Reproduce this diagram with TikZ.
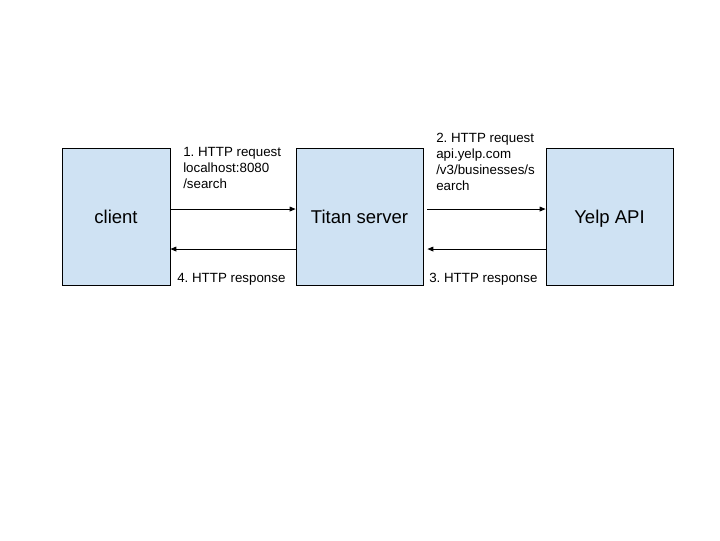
\documentclass[tikz,border=0pt]{standalone}
\usepackage{fontspec}
\setmainfont{Liberation Sans}
\usetikzlibrary{arrows.meta}
\definecolor{boxfill}{HTML}{CFE2F3}
\frenchspacing
\tikzset{
  box/.style={draw=black, line width=0.6pt, fill=boxfill, minimum height=102.75pt, inner sep=0pt, text depth=0pt, font=\fontsize{13.9}{16}\selectfont},
  lbl/.style={inner sep=0pt, align=left, font=\fontsize{10}{12}\selectfont},
  conn/.style={line width=0.7pt, -{Triangle[length=4.5pt,width=3.6pt]}}
}
\begin{document}
\begin{tikzpicture}[x=0.75pt,y=-0.75pt]
\useasboundingbox (0,0) rectangle (720,540);
\node[box, minimum width=81pt] (client) at (116,216.5) {client};
\node[box, minimum width=95.25pt] (titan) at (359.5,216.5) {Titan server};
\node[box, minimum width=95.25pt] (yelp) at (609.5,216.5) {Yelp API};
% arrows
\draw[conn] ([yshift=5.6pt]client.east) -- ([yshift=5.6pt]titan.west);
\draw[conn] ([yshift=-24.4pt]titan.west) -- ([yshift=-24.4pt]client.east);
\coordinate (tr) at ([yshift=5.6pt,xshift=3pt]titan.east);
\coordinate (br) at ([yshift=-24.4pt,xshift=3pt]titan.east);
\draw[conn] (tr) -- ([yshift=5.6pt]yelp.west);
\draw[conn] ([yshift=-24.4pt]yelp.west) -- (br);
% labels
\node[lbl, anchor=north west] (l1) at (183,147.5) {1. HTTP request\\localhost:8080\\/search};
\node[lbl, anchor=north west] (l2) at (436,133) {2. HTTP request\\api.yelp.com\\/v3/businesses/s\\earch};
\node[lbl, anchor=base west] (l3) at (429,282) {3. HTTP response};
\node[lbl, anchor=base west] (l4) at (177,282) {4. HTTP response};
\end{tikzpicture}
\end{document}
